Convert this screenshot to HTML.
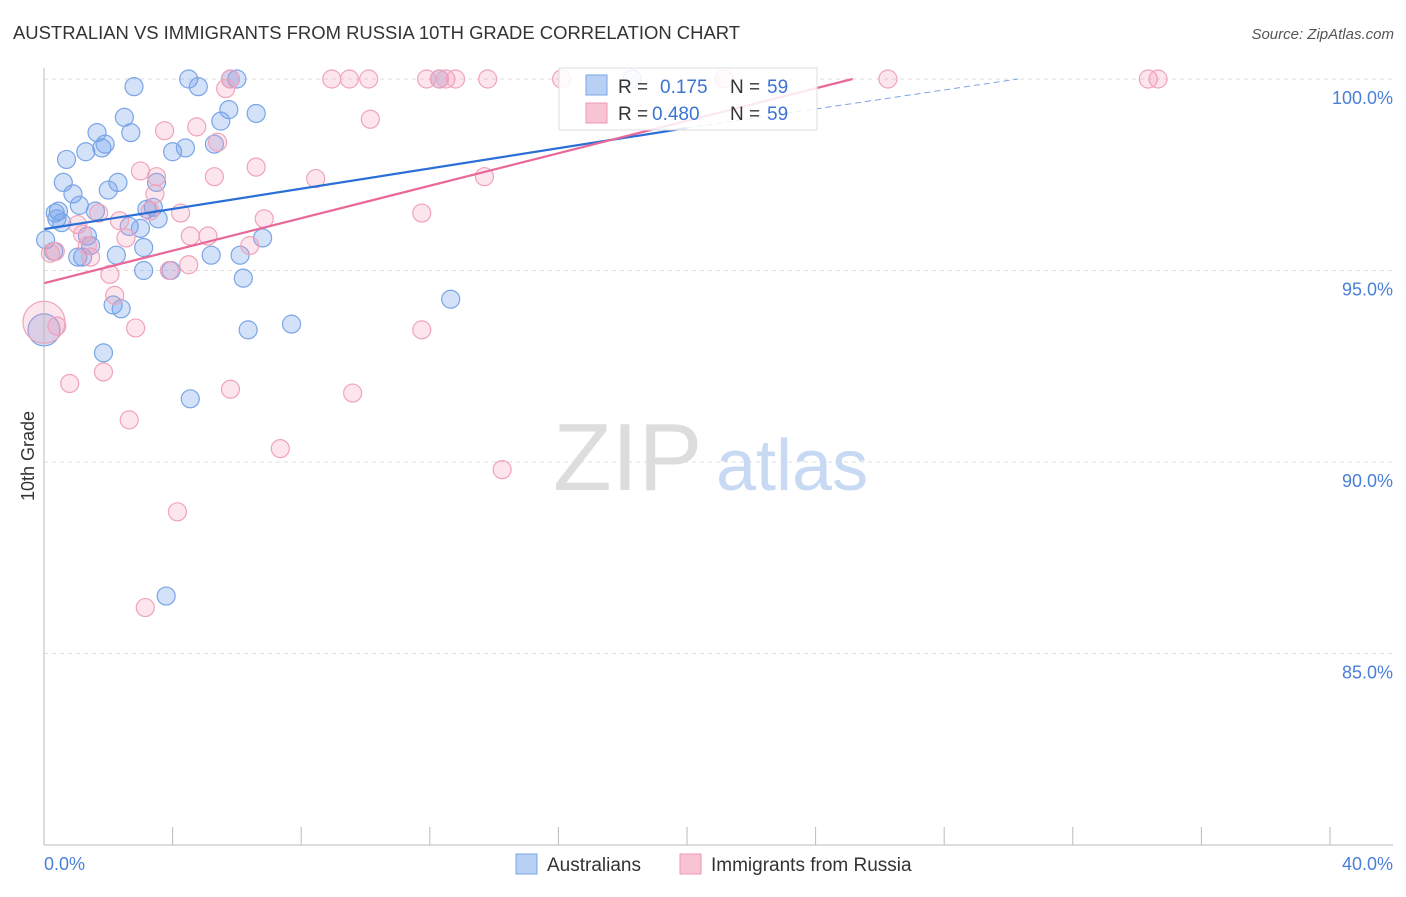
<!DOCTYPE html>
<html><head><meta charset="utf-8"><style>
body{margin:0;background:#fff;font-family:"Liberation Sans",sans-serif;}
svg text{font-family:"Liberation Sans",sans-serif;}
</style></head><body>
<svg id="chart" width="1406" height="892" xmlns="http://www.w3.org/2000/svg">
<text x="13" y="39" font-size="18" fill="#333" textLength="727" lengthAdjust="spacingAndGlyphs">AUSTRALIAN VS IMMIGRANTS FROM RUSSIA 10TH GRADE CORRELATION CHART</text>
<text x="1394" y="39" font-size="15" fill="#555" text-anchor="end" font-style="italic">Source: ZipAtlas.com</text>
<text transform="translate(34,456) rotate(-90)" font-size="18" fill="#333" text-anchor="middle">10th Grade</text>
<g id="grid"></g>
<text x="553" y="490" font-size="96" fill="#ddd" font-family="Liberation Serif">ZIP</text>
<text x="716" y="490" font-size="72" fill="#c8daf3">atlas</text>
<g id="pts"></g>
<g id="lines"></g>
<g id="axes"></g>
<g>
<rect x="559" y="68" width="258" height="62" fill="#fff" fill-opacity="0.85" stroke="#ddd"/>
<rect x="586" y="75" width="21" height="20" fill="#b8d0f3" stroke="#7aa5e6"/>
<text x="618" y="93" font-size="19" fill="#333">R =</text>
<text x="660" y="93" font-size="19" fill="#3a74d4">0.175</text>
<text x="730" y="93" font-size="19" fill="#333">N =</text>
<text x="767" y="93" font-size="19" fill="#3a74d4">59</text>
<rect x="586" y="103" width="21" height="20" fill="#f8c4d4" stroke="#ee9ab4"/>
<text x="618" y="120" font-size="19" fill="#333">R =</text>
<text x="652" y="120" font-size="19" fill="#3a74d4">0.480</text>
<text x="730" y="120" font-size="19" fill="#333">N =</text>
<text x="767" y="120" font-size="19" fill="#3a74d4">59</text>
</g>
<g>
<rect x="516" y="854" width="21" height="20" fill="#b8d0f3" stroke="#7aa5e6"/>
<text x="547" y="871" font-size="19" fill="#333">Australians</text>
<rect x="680" y="854" width="21" height="20" fill="#f8c4d4" stroke="#ee9ab4"/>
<text x="711" y="871" font-size="19" fill="#333">Immigrants from Russia</text>
</g>
</svg>
<script>
const yTicks=[100,95,90,85];
const yTickLabels=["100.0%","95.0%","90.0%","85.0%"];
const xTickVals=[0,4,8,12,16,20,24,28,32,36,40];
const blueX=[2.8,4.5,4.8,5.8,6.0,5.75,2.5,5.5,6.6,1.65,2.7,1.8,1.9,1.3,0.7,4.0,4.4,5.3,0.6,2.3,2.0,3.5,0.9,1.1,1.6,3.4,3.2,0.45,0.4,0.55,2.65,3.0,3.55,0.05,1.35,1.45,3.1,0.3,6.8,1.05,1.2,2.25,5.2,6.1,3.1,3.95,6.2,2.15,2.4,12.65,6.35,7.7,0,1.85,4.55,3.8,18.3,12.3,0.35];
const blueY=[99.8,100,99.8,100,100,99.2,99.0,98.9,99.1,98.6,98.6,98.2,98.3,98.1,97.9,98.1,98.2,98.3,97.3,97.3,97.1,97.3,97.0,96.7,96.55,96.65,96.6,96.55,96.35,96.25,96.15,96.1,96.35,95.8,95.9,95.65,95.6,95.5,95.85,95.35,95.35,95.4,95.4,95.4,95.0,95.0,94.8,94.1,94.0,94.25,93.45,93.6,93.45,92.85,91.65,86.5,100,100,96.5];
const blueSize=blueX.map((v,i)=>i===52?16:9);
const pinkX=[5.8,8.95,9.5,10.1,11.9,12.3,12.5,12.8,13.8,16.1,21.15,26.25,34.35,34.65,5.65,3.75,4.75,10.15,5.4,3.0,3.5,6.6,5.3,8.45,13.7,3.45,4.25,1.7,6.85,11.75,3.3,2.35,1.05,1.2,4.55,5.1,2.55,6.4,1.45,0.35,4.5,2.05,3.9,2.2,2.85,11.75,0.4,0,0.8,1.85,5.8,9.6,2.65,7.35,14.25,4.15,3.15,0.2,1.35];
const pinkY=[100,100,100,100,100,100,100,100,100,100,100,100,100,100,99.75,98.65,98.75,98.95,98.35,97.6,97.45,97.7,97.45,97.4,97.45,97.0,96.5,96.5,96.35,96.5,96.55,96.3,96.2,95.95,95.9,95.9,95.85,95.65,95.35,95.5,95.15,94.9,95.0,94.35,93.5,93.45,93.55,93.65,92.05,92.35,91.9,91.8,91.1,90.35,89.8,88.7,86.2,95.45,95.65];
const pinkSize=pinkX.map((v,i)=>i===47?21:9);
const blueLine=[[0,96.08],[20,98.72]], blueDash=[[20,98.72],[30.3,100]];
const pinkLine=[[0,94.67],[25.15,100]];
const NS="http://www.w3.org/2000/svg";
const X0=44,X1=1330,Y0=845;
const xs=v=>X0+(v/40)*(X1-X0);
const ys=v=>79+(100-v)*38.3;
function mk(t,a,p){const e=document.createElementNS(NS,t);for(const k in a)e.setAttribute(k,a[k]);p.appendChild(e);return e;}
const grid=document.getElementById('grid'),axes=document.getElementById('axes');
yTicks.forEach((v,i)=>{
 const l=mk('line',{x1:X0,x2:1393,y1:ys(v),y2:ys(v),stroke:'#ddd','stroke-dasharray':'4,4'},grid);
 
 
 const t=mk('text',{x:1393,y:ys(v)+25,'font-size':18,fill:'#4a7fd8','text-anchor':'end'},axes);
 t.textContent=yTickLabels[i];
 
 
});
mk('line',{x1:X0,x2:X0,y1:68,y2:Y0,stroke:'#bbb'},axes);
mk('line',{x1:X0,x2:1393,y1:Y0,y2:Y0,stroke:'#bbb'},axes);
xTickVals.forEach(v=>{const l=mk('line',{x1:xs(v),x2:xs(v),y1:827,y2:Y0,stroke:'#bbb'},axes);
 
 });
let t=mk('text',{x:44,y:870,'font-size':18,fill:'#4a7fd8'},axes);t.textContent='0.0%';


t=mk('text',{x:1393,y:870,'font-size':18,fill:'#4a7fd8','text-anchor':'end'},axes);t.textContent='40.0%';


const pts=document.getElementById('pts');
blueX.forEach((v,i)=>{const c=mk('circle',{cx:xs(v),cy:ys(blueY[i]),r:blueSize[i],fill:'rgba(110,160,235,0.3)',stroke:'#7aa5e6','stroke-width':1.2},pts);
 
 });
pinkX.forEach((v,i)=>{const c=mk('circle',{cx:xs(v),cy:ys(pinkY[i]),r:pinkSize[i],fill:'rgba(245,150,180,0.25)',stroke:'#f0a3bb','stroke-width':1.2},pts);
 
 });
const lines=document.getElementById('lines');
function ln(seg,col,w,dash,name){const l=mk('line',{x1:xs(seg[0][0]),y1:ys(seg[0][1]),x2:xs(seg[1][0]),y2:ys(seg[1][1]),stroke:col,'stroke-width':w},lines);if(dash)l.setAttribute('stroke-dasharray',dash);
 
 }
ln(blueLine,'#2a6fd6',2.2,null,'trend-australians');
ln(blueDash,'#7aa5e6',1,'6,4','trend-australians-ext');
ln(pinkLine,'#e8689a',2.2,null,'trend-russia');
</script>
</body></html>
